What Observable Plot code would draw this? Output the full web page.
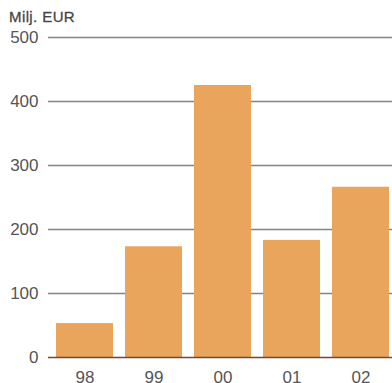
<!DOCTYPE html>
<html>
<head>
<meta charset="utf-8">
<script src="https://cdn.jsdelivr.net/npm/d3@7"></script>
<script src="https://cdn.jsdelivr.net/npm/@observablehq/plot@0.6"></script>
<style>
  html, body { margin: 0; padding: 0; background: #fff; overflow: hidden; }
  #wrap { position: relative; width: 392px; height: 383px; overflow: hidden; }
  #unit { position: absolute; left: 9px; top: 8px; font: 15px "Liberation Sans", Arial, sans-serif; color: #454545; letter-spacing: 0.4px; -webkit-text-stroke: 0.3px #454545; }
  #chart { position: absolute; left: 0; top: 0; width: 398px; }
  #chart svg { max-width: none !important; }
</style>
</head>
<body>
<div id="wrap">
  <div id="chart"></div>
  <div id="unit">Milj. EUR</div>
</div>
<script>
const years = ["98", "99", "00", "01", "02"];
const values = [53, 173, 425, 183, 266];
const yTicks = [0, 100, 200, 300, 400, 500];

const rows = years.map((year, i) => ({year, value: values[i]}));

const chart = Plot.plot({
  width: 398,
  height: 400,
  marginLeft: 48,
  marginRight: 0,
  marginTop: 37,
  marginBottom: 43,
  style: {fontFamily: "'Liberation Sans', Arial, sans-serif", fontSize: "17px", color: "#555", background: "white", maxWidth: "none"},
  x: {domain: years, paddingInner: 0.17, paddingOuter: 0.086, label: null},
  y: {domain: [0, 500], ticks: yTicks, label: null},
  marks: [
    Plot.ruleY(yTicks.filter(d => d > 0), {stroke: "#8c7f8c", strokeWidth: 1.3}),
    Plot.barY(rows, {x: "year", y: "value", fill: "#e9a55b"}),
    Plot.ruleY([0], {stroke: "#6b4a3a", strokeWidth: 1.3}),
    Plot.axisY({ticks: yTicks, tickSize: 0, tickPadding: 10, fill: "#555", fontSize: 17}),
    Plot.axisX({tickSize: 0, tickPadding: 13, fill: "#555", fontSize: 17})
  ]
});
document.getElementById("chart").append(chart);
</script>
</body>
</html>
